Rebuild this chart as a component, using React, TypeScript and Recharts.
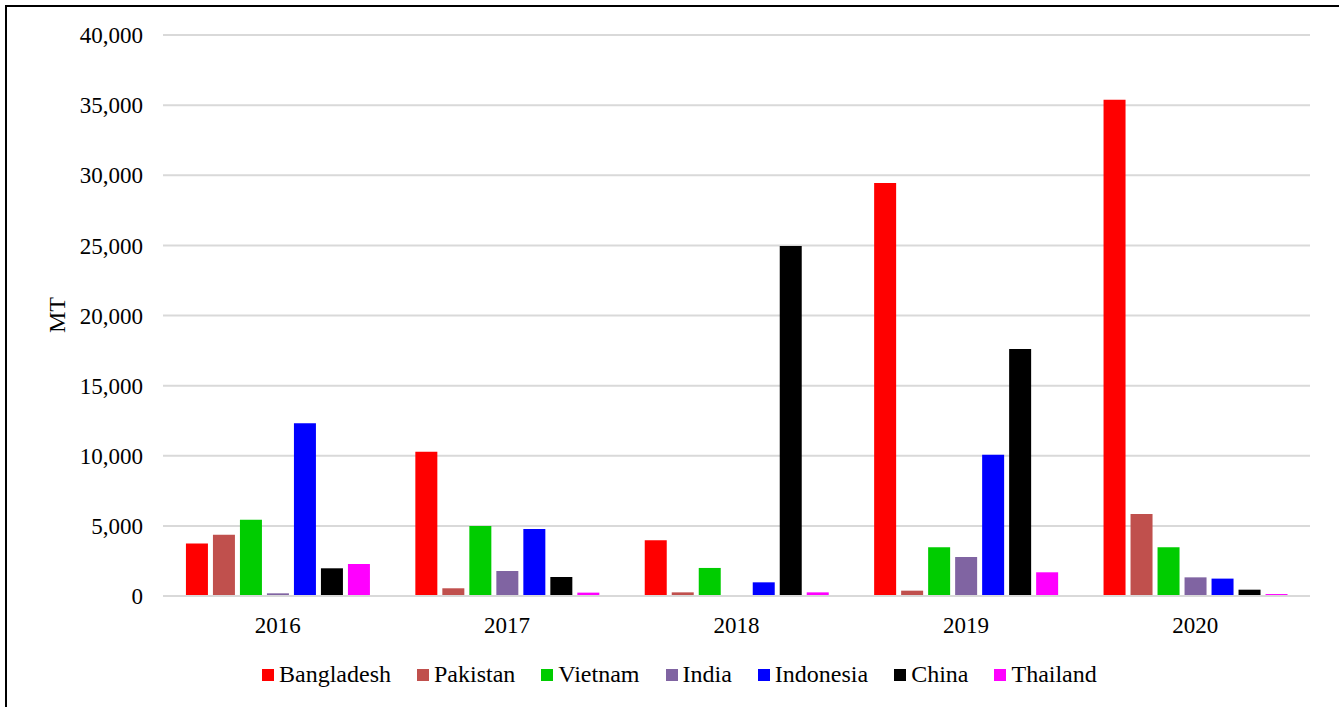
import React from 'react';
import { BarChart, Bar, XAxis, YAxis, CartesianGrid } from 'recharts';

const years = ['2016', '2017', '2018', '2019', '2020'];
const countries = ['Bangladesh', 'Pakistan', 'Vietnam', 'India', 'Indonesia', 'China', 'Thailand'];
const colors = ['#FF0000', '#C0504D', '#00CC00', '#8064A2', '#0000FF', '#000000', '#FF00FF'];

const bangladesh = [3750, 10290, 3970, 29450, 35380];
const pakistan = [4370, 550, 260, 380, 5850];
const vietnam = [5440, 4990, 2000, 3470, 3470];
const india = [190, 1780, 0, 2780, 1330];
const indonesia = [12320, 4780, 975, 10080, 1240];
const china = [1975, 1355, 24950, 17620, 450];
const thailand = [2280, 240, 260, 1690, 140];

const yTicks = [0, 5000, 10000, 15000, 20000, 25000, 30000, 35000, 40000];

const seriesValues = [bangladesh, pakistan, vietnam, india, indonesia, china, thailand];

const data = years.map((y, i) => {
  const row: Record<string, string | number> = { year: y };
  countries.forEach((c, k) => {
    row[c] = seriesValues[k][i];
  });
  return row;
});

const FONT = '"Liberation Serif", "Times New Roman", serif';

export default function App() {
  return (
    <div style={{ position: 'fixed', left: 0, top: 0, width: 1339, height: 707, background: '#fff', overflow: 'hidden', fontFamily: FONT }}>
      <div style={{ position: 'absolute', left: 5, top: 5, width: 1340, height: 710, borderLeft: '2px solid #000', borderTop: '2px solid #000' }} />
      <div style={{ position: 'absolute', left: 0, top: 0 }}>
        <BarChart
          width={1339}
          height={707}
          data={data}
          margin={{ top: 35, right: 29, bottom: 71, left: 0 }}
          barCategoryGap="10%"
          barGap={5}
        >
          <CartesianGrid vertical={false} stroke="#d9d9d9" strokeWidth={2} />
          <XAxis
            dataKey="year"
            height={40}
            tickSize={0}
            tickMargin={21}
            tickLine={false}
            axisLine={{ stroke: '#d9d9d9', strokeWidth: 2 }}
            tick={{ fill: '#000', fontSize: 23, fontFamily: FONT }}
          />
          <YAxis
            width={163}
            domain={[0, 40000]}
            ticks={yTicks}
            interval={0}
            tickSize={0}
            tickMargin={20}
            tickLine={false}
            axisLine={false}
            tickFormatter={(v: number) => v.toLocaleString('en-US')}
            tick={{ fill: '#000', fontSize: 23, fontFamily: FONT }}
            label={{
              content: () => (
                <text
                  x={57}
                  y={315}
                  transform="rotate(-90 57 315)"
                  textAnchor="middle"
                  dominantBaseline="central"
                  fontSize={24}
                  fontFamily={FONT}
                  fill="#000"
                >
                  MT
                </text>
              ),
            }}
          />
          {countries.map((c, k) => (
            <Bar key={c} dataKey={c} fill={colors[k]} isAnimationActive={false} />
          ))}
        </BarChart>
      </div>
      <div
        style={{
          position: 'absolute',
          left: 262,
          top: 661,
          display: 'flex',
          alignItems: 'center',
          gap: 26,
          fontSize: 24,
          fontFamily: FONT,
          color: '#000',
          whiteSpace: 'nowrap',
        }}
      >
        {countries.map((c, k) => (
          <div key={c} style={{ display: 'flex', alignItems: 'center' }}>
            <span style={{ display: 'inline-block', width: 12, height: 12, background: colors[k], marginRight: 5 }} />
            <span>{c}</span>
          </div>
        ))}
      </div>
    </div>
  );
}
